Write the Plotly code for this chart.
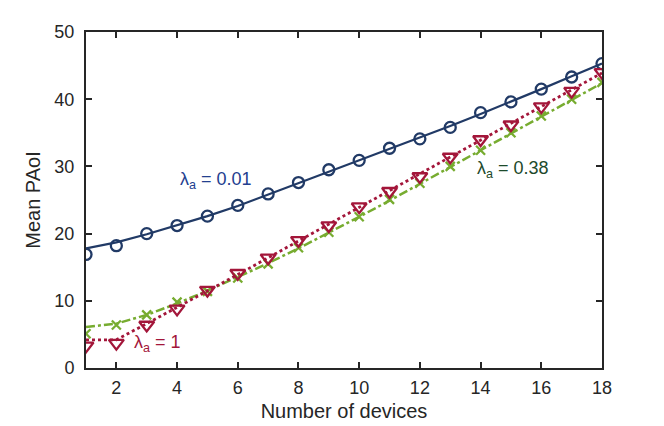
import plotly.graph_objects as go

# number of devices
devices = list(range(1, 19))

# lambda_a = 0.01
paoi_001_sim = [16.9, 18.2, 20.0, 21.2, 22.6, 24.2, 25.9, 27.6, 29.5, 30.9,
                32.7, 34.1, 35.8, 38.0, 39.6, 41.5, 43.3, 45.3]
paoi_001_ana = [17.8, 18.7, 19.9, 21.2, 22.6, 24.1, 25.8, 27.5, 29.2, 30.9,
                32.6, 34.2, 36.0, 37.8, 39.6, 41.5, 43.4, 45.3]

# lambda_a = 1
paoi_1_sim = [3.3, 3.7, 6.4, 8.8, 11.6, 14.1, 16.4, 19.0, 21.2, 24.0,
              26.3, 28.5, 31.4, 34.0, 36.2, 38.9, 41.2, 44.0]
paoi_1_ana = [4.2, 4.2, 6.6, 9.0, 11.5, 13.9, 16.4, 18.9, 21.4, 23.8,
              26.3, 28.8, 31.3, 33.8, 36.3, 38.8, 41.3, 43.9]

# lambda_a = 0.38
paoi_038_sim = [5.1, 6.4, 7.9, 9.8, 11.4, 13.4, 15.5, 17.9, 20.2, 22.5,
                25.1, 27.5, 30.0, 32.4, 35.0, 37.5, 40.0, 42.5]
paoi_038_ana = [6.1, 6.6, 7.9, 9.6, 11.5, 13.5, 15.6, 17.8, 20.1, 22.5,
                24.9, 27.4, 29.9, 32.4, 34.9, 37.4, 39.9, 42.4]

x_ticks = [2, 4, 6, 8, 10, 12, 14, 16, 18]
y_ticks = [0, 10, 20, 30, 40, 50]

BLUE = "#213a66"
RED = "#a3163a"
GREEN = "#77ac30"
AXIS = "#262626"

fig = go.Figure()

series = [
    (paoi_001_ana, paoi_001_sim, BLUE, "solid", 2.2, "circle-open", 11),
    (paoi_038_ana, paoi_038_sim, GREEN, "dashdot", 2.5, "x-thin-open", 9),
    (paoi_1_ana, paoi_1_sim, RED, "dot", 2.8, "triangle-down-open", 13),
]
for ana, sim, color, dash, width, symbol, size in series:
    fig.add_trace(go.Scatter(
        x=devices, y=ana, mode="lines",
        line={"color": color, "dash": dash, "width": width},
        hoverinfo="skip",
    ))
    fig.add_trace(go.Scatter(
        x=devices, y=sim, mode="markers",
        marker={"symbol": symbol, "size": size, "color": color,
                "line": {"color": color, "width": 2.3}},
    ))

labels = [
    (4.03, 27.9, "λ<sub>a</sub> = 0.01", "#23408f"),
    (13.8, 29.6, "λ<sub>a</sub> = 0.38", "#1d4a2b"),
    (2.52, 3.6, "λ<sub>a</sub> = 1", RED),
]
for lx, ly, txt, col in labels:
    fig.add_annotation(
        x=lx, y=ly, text=txt, showarrow=False,
        xanchor="left", yanchor="middle",
        font={"size": 18, "color": col},
    )

axis_common = dict(
    showline=True, linecolor=AXIS, linewidth=2, mirror="ticks",
    ticks="inside", ticklen=6, tickwidth=1.5, tickcolor=AXIS,
    showgrid=False, zeroline=False,
    tickfont={"size": 18, "color": AXIS},
)

# the page body adds 8px on the left and top
fig.update_layout(
    width=664, height=426,
    showlegend=False,
    plot_bgcolor="white", paper_bgcolor="white",
    font={"family": "Liberation Sans, Arial, sans-serif", "color": AXIS},
    margin={"l": 78, "r": 70, "t": 24, "b": 66},
    xaxis=dict(range=[1, 18], tickvals=x_ticks, ticklabelstandoff=2,
               title={"text": "Number of devices", "font": {"size": 20}, "standoff": 7},
               **axis_common),
    yaxis=dict(range=[0, 50], tickvals=y_ticks, ticklabelstandoff=6,
               title={"text": "Mean PAoI", "font": {"size": 20}, "standoff": 8},
               **axis_common),
)

fig.write_html("out.html")
